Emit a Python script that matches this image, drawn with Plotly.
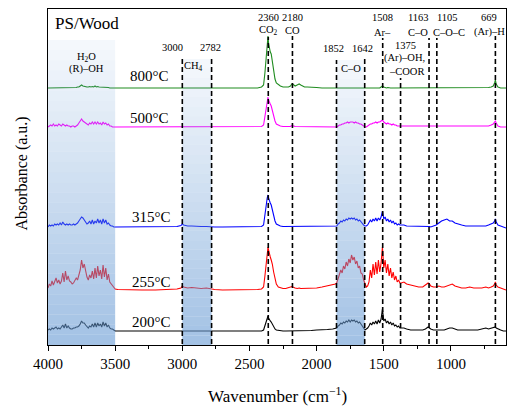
import plotly.graph_objects as go

# ---------------- data ----------------
wavenumber = [
    4000, 3990, 3980, 3970, 3960, 3950, 3940, 3930, 3920, 3910,
    3900, 3890, 3880, 3870, 3860, 3850, 3840, 3830, 3820, 3810,
    3800, 3790, 3780, 3770, 3760, 3750, 3740, 3730, 3720, 3710,
    3700, 3690, 3680, 3670, 3660, 3650, 3640, 3630, 3620, 3610,
    3600, 3590, 3580, 3570, 3560, 3550, 3540, 3530, 3520, 3510, 3500,
    3480, 3400, 3300, 3200, 3100, 3040, 3010, 3000, 2990, 2960,
    2930, 2900, 2860, 2820, 2790, 2760, 2700, 2600, 2500, 2440,
    2410, 2395, 2385, 2375, 2368, 2362, 2358, 2352, 2345, 2338,
    2330, 2320, 2310, 2300, 2285, 2270, 2250, 2230, 2210, 2195,
    2185, 2178, 2170, 2160, 2145, 2130, 2118, 2105, 2090, 2070,
    2040, 2000, 1960, 1920, 1880, 1860,
    1850, 1840, 1830, 1820, 1810, 1800, 1790, 1780, 1770, 1760, 1750,
    1740, 1730, 1720, 1710, 1700, 1690, 1680, 1670, 1660, 1650, 1640,
    1630, 1620, 1610, 1600, 1590, 1580, 1570, 1560, 1550, 1540, 1530,
    1520, 1510, 1500, 1490, 1480, 1470, 1460, 1450, 1440, 1430, 1420,
    1410, 1400, 1390, 1380,
    1370, 1350, 1330, 1300, 1270, 1240, 1210, 1190, 1170, 1160,
    1150, 1130, 1110, 1090, 1070, 1050, 1030, 1010, 990, 970,
    950, 920, 890, 860, 830, 800, 770, 740, 720, 700,
    685, 675, 669, 663, 650, 630, 610, 590,
]

abs_800 = [
    0, 0, 0.5, 0, 0.5, 0, 0.5, 0, 0.5, 0, 0.5, 0, 0.5, 0, 0.5, 0, 0, 0, 0, 0,
    0, 0.5, 1, 1, 2, 3, 2, 1.5, 1, 1, 1, 1.5, 1, 1.5, 1, 2, 1, 1.5, 1, 1,
    0.5, 1, 0.5, 0.5, 0.5, 0.5, 0, 0, 0, 0, 0,
    0, 0, 0.5, 0.5, 0, 0, 0, 0, 0, 0, 0, 0, 0, 0, 0, 0, 0, 0, 0, 0,
    1, 3, 15, 30, 44, 52, 45, 38, 36, 34, 27, 16, 9, 5, 3, 2, 1, 1, 1, 2,
    4, 4, 3, 2, 3, 4, 3, 2, 1, 1, 0.5, 0.5, 0, 0, 0, 0,
    0, 0, 0, 0, 0, 0.5, 0, 0, 0.5, 0, 0, 0.5, 0, 0, 0, 0, 0, 0, 0, 0, 0, 0,
    0, 0, 0, 0, 0, 0, 0.5, 0, 0, 0.5, 0, 1, 2, 1, 0.5, 0, 0.5, 0, 0, 0,
    0, 0, 0, 0, 0, 0,
    0, 0, 0, 0, 0, 0, 0, 0, 0, 0, 0, 0, 0, 0, 0, 0, 0, 0, 0, 0,
    0, 0, 0, 0, 0, 0, 0, 0, 0.5, 1, 2, 5, 8, 4, 1, 0, 0, 0,
]

abs_500 = [
    0, 1, 2, 1, 3, 1, 2, 1, 3, 2, 1, 3, 2, 1, 2, 1, 1, 0, 1, 1,
    0, 1, 2, 4, 6, 8, 6, 5, 4, 3, 2, 4, 3, 5, 3, 5, 3, 5, 3, 4,
    2, 5, 3, 4, 2, 3, 1, 1, 0, 0, 0,
    0, 0, 0, 0, 0, 0, 0, 0, 0, 0, 0, 0, 0, 0, 0, 0, 0, 0, 0, 0,
    0.5, 2, 10, 20, 27, 30, 27, 24, 23, 21, 16, 10, 6, 3, 2, 1, 0.5, 0.5, 0.5, 0.5,
    1.5, 1.5, 1, 0.5, 0.5, 0.5, 0.5, 0.5, 0.5, 0.5, 0.5, 0.5, 0.5, 0.5, 0.5, 0.5,
    0, 1, 2, 2, 3, 3, 4, 4, 5, 4, 5, 5, 5, 4, 5, 4, 4, 3, 3, 2, 1, 0,
    0, 1, 2, 3, 3, 4, 4, 5, 4, 5, 5, 6, 7, 5, 4, 3, 4, 3, 3, 2,
    3, 2, 2, 1, 1, 1,
    1, 1, 1, 0.5, 0.5, 0.5, 0.5, 0.5, 1, 0.5, 0.5, 0.5, 0.5, 0.5, 1, 1, 1, 1, 1, 0.5,
    0.5, 0.5, 0.5, 0.5, 0.5, 0.5, 0.5, 0.5, 1, 2, 3, 5, 6, 4, 1, 0, 0, 0,
]

abs_315 = [
    0, 2, 1, 2, 1, 3, 2, 3, 2, 4, 2, 5, 3, 2, 3, 2, 3, 2, 2, 3,
    2, 3, 4, 6, 8, 10, 9, 7, 5, 3, 4, 6, 3, 7, 3, 6, 4, 8, 4, 7,
    3, 8, 4, 7, 3, 4, 2, 1, 1, 0, 0,
    0, 0, 0, 0, 0, 0.5, 1.5, 3, 2, 1, 1, 0.5, 0.5, 0.5, 0, 0, 0, 0, 0, 0,
    0.5, 2, 10, 22, 29, 32, 29, 25, 24, 22, 17, 11, 6, 3, 2, 1, 0.5, 0.5, 0.5, 0.5,
    1, 1, 0.5, 0.5, 0.5, 0.5, 0.5, 0.5, 0.5, 0.5, 0.5, 0.5, 0.5, 1, 1, 1,
    1, 3, 4, 6, 5, 7, 6, 8, 7, 9, 8, 9, 8, 9, 7, 8, 6, 7, 5, 4, 2, 1,
    1, 2, 4, 7, 5, 8, 6, 9, 6, 9, 7, 10, 16, 8, 10, 6, 8, 5, 7, 4,
    6, 3, 4, 2, 3, 2,
    2, 2, 1, 1, 1, 1, 0.5, 1, 1, 0.5, 0, 1, 2, 4, 6, 7, 8, 6, 6, 4,
    3, 2, 1, 1, 1, 1, 1, 1, 2, 3, 4, 6, 8, 5, 2, 1, 0, -1,
]

abs_255 = [
    2, 6, 4, 9, 5, 8, 12, 7, 10, 6, 9, 17, 8, 19, 10, 14, 9, 8, 6, 7,
    9, 12, 10, 16, 20, 30, 22, 26, 18, 13, 10, 15, 12, 19, 11, 22, 12, 24, 14, 20,
    11, 25, 13, 22, 10, 16, 8, 6, 4, 3, 1,
    0.5, 0, 0, 0, 0.5, 1, 2, 4, 3, 2, 2.5, 2, 1.5, 2, 1, 0.5, 0, 0, 0, 0.5,
    1, 3, 14, 30, 38, 43, 40, 35, 33, 30, 26, 18, 11, 6, 3, 2, 1.5, 1.5, 2, 3,
    3.5, 3, 2.5, 2, 1.5, 2, 1.5, 1.5, 1.5, 1.5, 2, 2, 3, 4, 5, 6,
    7, 12, 15, 20, 17, 24, 21, 28, 24, 31, 27, 35, 30, 33, 26, 29, 22, 24, 17, 16, 10, 6,
    3, 4, 8, 20, 12, 26, 15, 28, 16, 30, 18, 27, 43, 22, 30, 17, 26, 14, 22, 12,
    18, 10, 14, 8, 10, 7,
    7, 8, 6, 5, 4, 3, 3, 5, 7, 6, 4, 3, 3, 4, 3, 3, 4, 5, 6, 4,
    3, 2, 2, 3, 2, 2, 2, 3, 2, 3, 4, 6, 8, 5, 3, 2, 1, 0,
]

abs_200 = [
    1, 2, 1, 3, 2, 3, 4, 2, 3, 2, 4, 6, 3, 7, 3, 5, 3, 2, 2, 3,
    3, 4, 4, 5, 7, 10, 8, 8, 6, 4, 3, 5, 4, 7, 4, 8, 4, 8, 5, 7,
    4, 9, 5, 8, 4, 6, 3, 2, 2, 1, 0,
    0, 0, 0, 0, 0, 0, 0, 0.5, 0.5, 0, 0, 0.5, 0, 0, 0, 0, 0, 0, 0, 0,
    0, 1, 6, 11, 14, 15, 13, 11, 10, 9, 7, 4, 2, 1, 0.5, 0, 0, 0, 0, 0,
    0.5, 0.5, 0, 0, 0, 0.5, 0, 0.5, 0, 0.5, 0.5, 1, 1, 1.5, 2, 3,
    3, 5, 6, 8, 7, 9, 8, 10, 9, 11, 9, 11, 10, 11, 9, 10, 8, 9, 7, 5, 3, 1,
    2, 3, 5, 8, 6, 9, 7, 10, 7, 11, 8, 12, 22, 10, 12, 8, 10, 7, 9, 6,
    8, 5, 6, 4, 5, 3,
    3, 3, 2, 1, 1, 1, 1, 2, 4, 3, 2, 1, 1, 1, 1, 1, 2, 3, 3, 2,
    1, 1, 1, 1, 1, 1, 2, 3, 2, 3, 3, 4, 4, 3, 2, 1, 0, 0,
]

series_names = ["800°C", "500°C", "315°C", "255°C", "200°C"]
series_values = [abs_800, abs_500, abs_315, abs_255, abs_200]
series_offsets = [257, 218, 118, 55, 14]
series_colors = ["#1f8c1f", "#ff00ff", "#0000ff", "#ff0000", "#000000"]

marker_wn = [3000, 2782, 2360, 2180, 1852, 1642, 1508, 1375, 1163, 1105, 669]
marker_top = [286, 286, 308, 309, 285, 287, 307, 267, 307, 307, 309]

bands = [(4000, 3500, 305), (3000, 2782, 286), (1852, 1642, 285)]

for v in series_values:
    assert len(v) == len(wavenumber), len(v)

FONT = "Liberation Serif"

fig = go.Figure()
for name, vals, off, col in zip(series_names, series_values, series_offsets, series_colors):
    fig.add_trace(go.Scatter(
        x=wavenumber, y=[v + off for v in vals], mode="lines", name=name,
        line=dict(color=col, width=1.1), hoverinfo="skip"))

shapes = []
N = 30
for (x0, x1, top) in bands:
    for k in range(N):
        ya = top * k / N
        yb = top * (k + 1) / N
        alpha = 0.62 - 0.56 * (k + 0.5) / N
        shapes.append(dict(type="rect", xref="x", yref="y", x0=x0, x1=x1, y0=ya, y1=yb,
                           fillcolor="rgba(105,155,212,%.3f)" % alpha,
                           line=dict(width=0), layer="above"))
for wn, top in zip(marker_wn, marker_top):
    shapes.append(dict(type="line", xref="x", yref="y", x0=wn, x1=wn, y0=1, y1=top,
                       line=dict(color="black", width=1.6, dash="5px,3px"), layer="above"))

ann = []
def add(text, x, y, size=10.5, xanchor="center", xref="x", yref="y", **kw):
    ann.append(dict(text=text, x=x, y=y, xref=xref, yref=yref, showarrow=False,
                    xanchor=xanchor, yanchor="middle",
                    font=dict(family=FONT, size=size, color="black"), **kw))

add("PS/Wood", 3965, 322, size=17, xanchor="left")
add("2360", 2360, 328); add("CO<sub>2</sub>", 2360, 315)
add("2180", 2180, 328); add("CO", 2180, 315)
add("1508", 1508, 328); add("Ar–", 1508, 313)
add("1163", 1245, 328); add("C–O", 1245, 313)
add("1105", 1022, 328); add("C–O–C", 1014, 313)
add("669", 716, 328); add("(Ar)–H", 716, 313)
add("3000", 3072, 298); add("2782", 2789, 298)
add("CH<sub>4</sub>", 2920, 279)
add("H<sub>2</sub>O", 3717, 288); add("(R)–OH", 3717, 276)
add("1852", 1878, 297); add("1642", 1655, 297)
add("C–O", 1746, 277)
add("1375", 1342, 300); add("(Ar)–OH,", 1349, 287); add("–COOR", 1329, 274)

temp_pos = [(3404, 269), (3404, 227), (3389, 128), (3389, 63), (3389, 23)]
for name, (tx, ty) in zip(series_names, temp_pos):
    add(name, tx, ty, size=15, xanchor="left")

add("Absorbance (a.u.)", -0.057, 0.51, size=16, xref="paper", yref="paper", textangle=-90)
add("Wavenumber (cm<sup>−1</sup>)", 0.5, -0.149, size=17, xref="paper", yref="paper")

fig.update_layout(
    width=509, height=410,
    margin=dict(l=48, r=3, t=9, b=65),
    paper_bgcolor="white", plot_bgcolor="white",
    showlegend=False,
    font=dict(family=FONT, color="black"),
    shapes=shapes, annotations=ann,
    xaxis=dict(range=[4000, 590], tickmode="linear", tick0=0, dtick=500,
               ticks="outside", ticklen=5, tickwidth=1, tickcolor="black",
               minor=dict(ticks="outside", ticklen=3, tickwidth=1, tickcolor="black",
                          tick0=0, dtick=250),
               showline=True, linecolor="black", linewidth=1, mirror=True,
               showgrid=False, zeroline=False,
               tickfont=dict(family=FONT, size=15, color="black")),
    yaxis=dict(range=[0, 336], showticklabels=False, ticks="",
               showline=True, linecolor="black", linewidth=1, mirror=True,
               showgrid=False, zeroline=False),
)

fig.write_html("out.html")
